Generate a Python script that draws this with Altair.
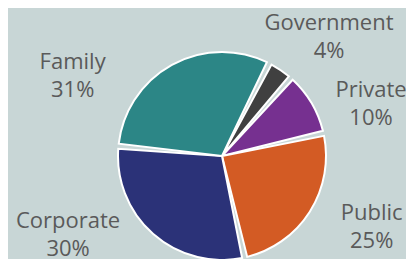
import altair as alt
import pandas as pd
import math

# Data
categories = ["Government", "Private", "Public", "Corporate", "Family"]
shares = [4, 10, 25, 30, 31]
colors = ["#404040", "#763090", "#d35b24", "#2b3278", "#2c8686"]

# Label layout (polar placement of the outside labels, degrees / pixels)
label_angle_deg = [42.2, 71.1, 115.6, 242.5, 297.9]
label_radius_px = [159.3, 157.5, 166, 173.5, 169]

df = pd.DataFrame({
    "category": categories,
    "value": shares,
    "order": list(range(len(categories))),
    "label": [f"{c}\n{v}%" for c, v in zip(categories, shares)],
    "label_angle": label_angle_deg,
    "label_radius": label_radius_px,
})

start = math.radians(27)
cx, cy = 214, 148

base = alt.Chart(df)

pie = base.mark_arc(outerRadius=104, padAngle=0.05, stroke="white", strokeWidth=2).encode(
    theta=alt.Theta("value:Q", stack=True, scale=alt.Scale(range=[start, start + 2 * math.pi])),
    order=alt.Order("order:Q"),
    color=alt.Color("category:N", scale=alt.Scale(domain=categories, range=colors), legend=None),
    x=alt.value(cx),
    y=alt.value(cy),
)

labels = base.transform_calculate(
    label_theta="datum.label_angle * PI / 180"
).mark_text(
    font="Open Sans", fontSize=22, color="#5a5a5a", lineHeight=28,
    align="center", baseline="middle", lineBreak="\n", dy=-14,
).encode(
    theta=alt.Theta("label_theta:Q", scale=None),
    radius=alt.Radius("label_radius:Q", scale=None),
    text="label:N",
    x=alt.value(cx),
    y=alt.value(cy - 1),
)

chart = alt.layer(pie, labels).resolve_scale(theta="independent").properties(
    width=398, height=251, autosize="none", padding=0,
    background="#c8d6d6",
).configure_view(stroke=None)

chart.save("out.html", embed_options={"renderer": "svg", "actions": False})
